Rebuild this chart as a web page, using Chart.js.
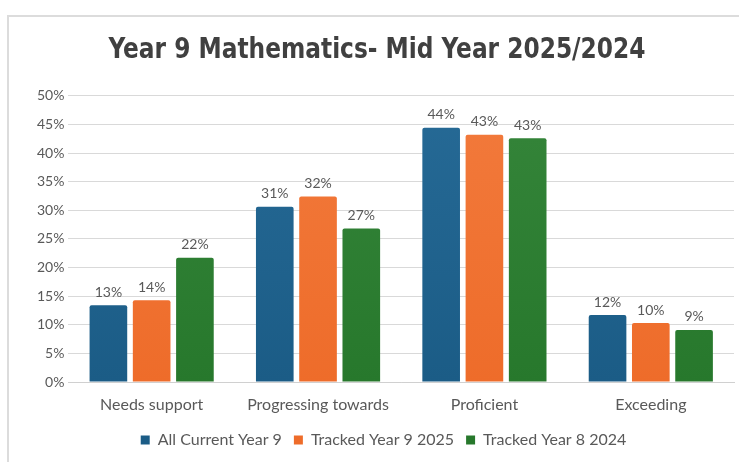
<!DOCTYPE html>
<html>
<head>
<meta charset="utf-8">
<script src="https://cdn.jsdelivr.net/npm/chart.js@4/dist/chart.umd.min.js"></script>
<style>
  html, body { margin: 0; padding: 0; background: #fff; }
  #frame {
    position: absolute; left: 7px; top: 15px; width: 732px; height: 447px;
    border-left: 2px solid #dcdcdc; border-top: 2px solid #dcdcdc;
    box-sizing: border-box; background: #fff;
  }
  #wrap { position: absolute; left: 0; top: 0; width: 730px; height: 445px; }
</style>
</head>
<body>
<div id="frame"><div id="wrap"><canvas id="mathsChart"></canvas></div></div>
<script>
const categories = ['Needs support', 'Progressing towards', 'Proficient', 'Exceeding'];
const allCurrentYear9 = [13.4, 30.6, 44.4, 11.7];
const trackedYear9_2025 = [14.3, 32.4, 43.2, 10.3];
const trackedYear8_2024 = [21.7, 26.8, 42.6, 9.1];
const yTicks = [0, 5, 10, 15, 20, 25, 30, 35, 40, 45, 50];
const chartTitle = 'Year 9 Mathematics- Mid Year 2025/2024';

const textGrey = '#595959';
const font = 'Lato, "Open Sans", sans-serif';

function gradientFill(top, bottom) {
  return function(context) {
    const area = context.chart.chartArea;
    if (!area) return bottom;
    const g = context.chart.ctx.createLinearGradient(0, area.top, 0, area.bottom);
    g.addColorStop(0, top);
    g.addColorStop(1, bottom);
    return g;
  };
}

// writes each bar's percentage just above it
const valueLabels = {
  id: 'valueLabels',
  afterDatasetsDraw(chart) {
    const ctx = chart.ctx;
    ctx.save();
    ctx.font = '14px ' + font;
    ctx.fillStyle = textGrey;
    ctx.textAlign = 'center';
    ctx.textBaseline = 'bottom';
    chart.data.datasets.forEach((ds, i) => {
      chart.getDatasetMeta(i).data.forEach((bar, j) => {
        ctx.fillText(Math.round(ds.data[j]) + '%', bar.x, bar.y - 6);
      });
    });
    ctx.restore();
  }
};

// narrow bold heading drawn into the space the (invisible) title block keeps
const narrowTitle = {
  id: 'narrowTitle',
  afterDraw(chart) {
    const ctx = chart.ctx;
    const block = chart.titleBlock;
    ctx.save();
    ctx.font = 'bold 29px "Liberation Sans Narrow", "DejaVu Sans", sans-serif';
    ctx.fontStretch = 'condensed';
    ctx.fillStyle = '#404040';
    ctx.textAlign = 'center';
    ctx.textBaseline = 'middle';
    const maxW = 537;
    const w = ctx.measureText(chartTitle).width;
    const cx = chart.width / 2 + 3;
    const cy = block.top + 17;
    ctx.translate(cx, cy);
    if (w > maxW) ctx.scale(maxW / w, 1);
    ctx.fillText(chartTitle, 0, 0);
    ctx.restore();
  }
};

new Chart(document.getElementById('mathsChart').getContext('2d'), {
  type: 'bar',
  data: {
    labels: categories,
    datasets: [
      { label: 'All Current Year 9', data: allCurrentYear9, backgroundColor: gradientFill('#266a96', '#1b5c86') },
      { label: 'Tracked Year 9 2025', data: trackedYear9_2025, backgroundColor: gradientFill('#f27a3c', '#ee6c2a') },
      { label: 'Tracked Year 8 2024', data: trackedYear8_2024, backgroundColor: gradientFill('#35853a', '#27782c') }
    ]
  },
  options: {
    responsive: true,
    maintainAspectRatio: false,
    animation: false,
    datasets: { bar: { barPercentage: 0.87, categoryPercentage: 0.78, borderRadius: 2 } },
    layout: { padding: { left: 24, right: 5, top: 16, bottom: 4 } },
    plugins: {
      title: {
        display: true,
        text: chartTitle,
        color: 'rgba(0,0,0,0)',
        font: { family: '"DejaVu Sans", sans-serif', size: 29, weight: 'bold' },
        padding: { top: 0, bottom: 28 }
      },
      legend: {
        position: 'bottom',
        labels: {
          color: textGrey,
          font: { family: font, size: 16 },
          boxWidth: 9, boxHeight: 9,
          padding: 12
        }
      },
      tooltip: { enabled: false }
    },
    scales: {
      y: {
        min: 0, max: 50,
        afterBuildTicks: axis => { axis.ticks = yTicks.map(v => ({ value: v })); },
        ticks: {
          callback: v => v + '%',
          color: textGrey,
          font: { family: font, size: 14 },
          padding: 4
        },
        grid: { color: '#d9d9d9', drawTicks: false },
        border: { display: false }
      },
      x: {
        ticks: { color: textGrey, font: { family: font, size: 16, lineHeight: 1 }, padding: 7 },
        grid: { display: false },
        border: { color: '#d0d0d0' }
      }
    }
  },
  plugins: [valueLabels, narrowTitle]
});
</script>
</body>
</html>
